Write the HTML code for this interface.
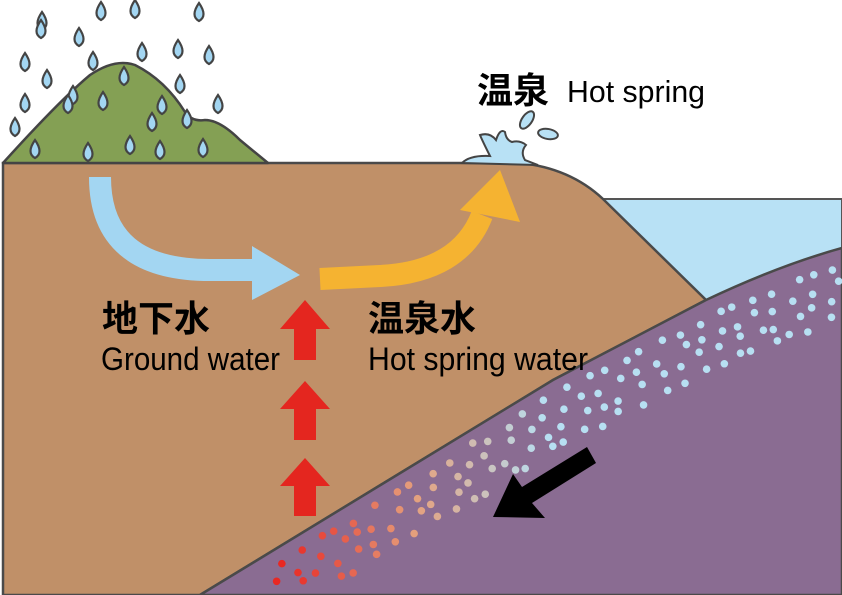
<!DOCTYPE html>
<html><head><meta charset="utf-8"><style>
html,body{margin:0;padding:0;background:#fff}
svg{display:block}
text{font-family:"Liberation Sans","Noto Sans CJK JP",sans-serif}
</style></head><body>
<svg id="s" width="842" height="595" viewBox="0 0 842 595" xmlns="http://www.w3.org/2000/svg">
<path d="M600,199 L842,199 L842,248 L706,300 Z" fill="#b8e1f5" stroke="#555" stroke-width="2"/>
<path d="M3,595 L3,163 L520,163 Q570,168 603,199 L706,300 L553,380 L200,595 Z" fill="#c09068" stroke="#4a4a4a" stroke-width="2.5"/>
<path d="M200,595 L553,380 L706,300 Q780,265 842,248 L842,595 Z" fill="#8a6c92" stroke="#4a4a4a" stroke-width="2.5"/>
<path d="M3,163 Q60,100 90,75 Q115,58 135,65 Q165,80 185,112 Q192,122 205,120 Q220,120 240,140 L268,163 Z" fill="#84a054" stroke="#444" stroke-width="2.5" stroke-linejoin="round"/>
<path d="M462,163 Q470,155 490,156 Q482,140 480,135 Q490,132 496,140 Q500,128 505,132 Q506,140 512,142 Q520,140 526,145 Q520,152 525,160 L538,165 Z" fill="#b8e1f5" stroke="#444" stroke-width="2"/>
<ellipse cx="527" cy="120" rx="5" ry="10" transform="rotate(35 527 120)" fill="#b8e1f5" stroke="#444" stroke-width="2"/>
<ellipse cx="548" cy="134" rx="10" ry="5" transform="rotate(10 548 134)" fill="#b8e1f5" stroke="#444" stroke-width="2"/>
<path d="M100,177 Q100,270 210,270 L252,270" fill="none" stroke="#a3d6f2" stroke-width="22"/>
<path d="M252,246 L300,275 L252,300 Z" fill="#a3d6f2"/>
<path d="M320,279 L380,276 Q460,272 482,215" fill="none" stroke="#f5b331" stroke-width="22"/>
<path d="M460,210 L500,170 L520,222 Z" fill="#f5b331"/>
<g fill="#e4261f">
<path d="M305,300 L330,329 L316,329 L316,360 L294,360 L294,329 L280,329 Z"/>
<path d="M305,381 L330,409 L316,409 L316,440 L294,440 L294,409 L280,409 Z"/>
<path d="M305,458 L330,486 L316,486 L316,516 L294,516 L294,486 L280,486 Z"/>
</g>
<polygon points="493,517 513,474 522,487 587,447 596,463 532,503 545,518" fill="#000"/>
<g id="dots"></g>
<g id="drops"></g>
<text x="477" y="103" font-size="36" font-weight="bold" fill="#000">温泉</text>
<text x="567" y="102" font-size="31" fill="#000" textLength="138" lengthAdjust="spacingAndGlyphs">Hot spring</text>
<text x="102" y="331" font-size="36" font-weight="bold" fill="#000">地下水</text>
<text x="101" y="370" font-size="32" fill="#000" textLength="179" lengthAdjust="spacingAndGlyphs">Ground water</text>
<text x="368" y="331" font-size="36" font-weight="bold" fill="#000">温泉水</text>
<text x="368" y="370" font-size="32" fill="#000" textLength="220" lengthAdjust="spacingAndGlyphs">Hot spring water</text>
</svg>
<script>
var ns="http://www.w3.org/2000/svg";
var d=document.getElementById("dots");
var seed=7;function r(){seed=(seed*9301+49297)%233280;return seed/233280;}
function lineY(x){if(x<553)return 595-(x-200)*(215/353);if(x<706)return 380-(x-553)*(80/153);return 300-(x-706)*(52/136);}
var C=[[232,40,35],[228,160,125],[183,223,242]];
function col(t){var a,b,u;if(t<0.5){a=C[0];b=C[1];u=t*2;}else{a=C[1];b=C[2];u=(t-0.5)*2;}
return "rgb("+[0,1,2].map(function(i){return Math.round(a[i]+(b[i]-a[i])*u)}).join(",")+")";}
for(var x=282;x<838;x+=19){for(var k=0;k<4;k++){var xx=x+r()*14-7;var yy=lineY(xx)+14+k*17+r()*8;if(yy>588)continue;
var t=Math.min(1,Math.max(0,(xx-285)/260));
var c=document.createElementNS(ns,"circle");c.setAttribute("cx",xx);c.setAttribute("cy",yy);c.setAttribute("r",3.8);c.setAttribute("fill",col(t));d.appendChild(c);}}
var drops=[[42,12],[101,2],[135,0],[199,3],[41,20],[79,28],[142,43],[178,40],[209,46],[25,53],[93,52],[47,70],[73,86],[124,67],[180,75],[15,118],[68,95],[103,92],[162,96],[218,95],[25,94],[35,140],[88,143],[130,136],[160,141],[203,139],[152,113],[187,110]];
var g=document.getElementById("drops");
drops.forEach(function(p){var e=document.createElementNS(ns,"path");var x=p[0],y=p[1];
e.setAttribute("d","M"+x+","+y+" Q"+(x+9)+","+(y+13)+" "+x+","+(y+18)+" Q"+(x-9)+","+(y+13)+" "+x+","+y+"Z");
e.setAttribute("fill","#a3d6f2");e.setAttribute("stroke","#444");e.setAttribute("stroke-width","2.2");g.appendChild(e);});
</script>
</body></html>
